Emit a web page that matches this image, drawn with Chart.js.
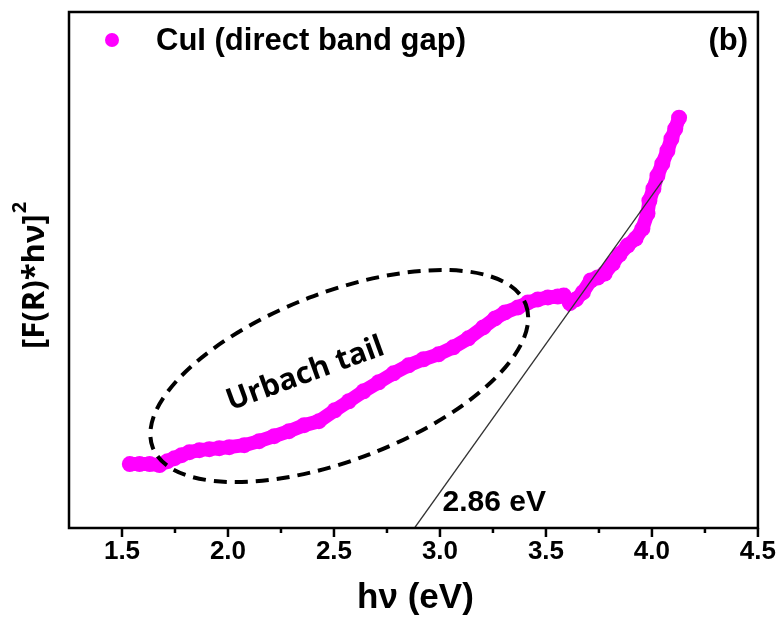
<!DOCTYPE html>
<html><head><meta charset="utf-8">
<script src="https://cdn.jsdelivr.net/npm/chart.js@4/dist/chart.umd.min.js"></script>
<style>html,body{margin:0;padding:0;background:#fff}#wrap{width:784px;height:618px}</style>
</head><body><div id="wrap"><canvas id="c" width="784" height="618"></canvas></div>
<script>
// photon energy (eV)
const hv = [1.537,1.583,1.630,1.677,1.715,1.748,1.781,1.818,1.865,1.912,1.959,2.006,2.077,2.147,2.218,2.288,2.359,2.429,2.504,2.570,2.640,2.711,2.781,2.852,2.922,2.993,3.063,3.134,3.204,3.260,3.307,3.368,3.415,3.462,3.509,3.556,3.584,3.613,3.641,3.674,3.711,3.744,3.777,3.815,3.847,3.885,3.923,3.955,3.979,3.988,4.007,4.026,4.049,4.073,4.092,4.110,4.128];
// [F(R)*hv]^2 (arbitrary units)
const fr = [12.38,12.38,12.38,12.19,12.96,13.54,14.12,14.70,15.09,15.28,15.47,15.67,16.05,16.83,17.80,18.76,19.92,20.70,22.82,24.56,26.50,28.24,29.98,31.53,32.70,33.66,35.01,36.75,38.88,40.62,41.78,42.75,43.71,44.29,44.68,44.87,45.07,43.60,44.30,45.65,47.97,48.55,49.32,51.26,53.00,54.74,56.09,58.03,60.93,63.44,65.76,68.28,70.60,73.11,75.44,77.37,79.50];
// linear fit (Tauc extrapolation)
const fitX = [2.88, 4.05];
const fitY = [0, 67.3];
const xMajorTicks = [1.5,2.0,2.5,3.0,3.5,4.0,4.5];
const xMinorTicks = [1.75,2.25,2.75,3.25,3.75,4.25];
const seriesLabel = 'CuI (direct band gap)';
const panelLabel = '(b)';
const gapLabel = '2.86 eV';
const tailLabel = 'Urbach tail';
const xTitle = 'h\u03bd (eV)';
const yTitle = '[F(R)*h\u03bd]';

const MAG = '#ff00ff';
const SANS = '"Liberation Sans", Arial, sans-serif';
const overlay = {
  id: 'overlay',
  afterDatasetsDraw(chart) {
    const {ctx, chartArea: ca, scales: {x, y}} = chart;
    ctx.save();
    // ellipse
    const p1 = {x: x.getPixelForValue(1.645), y: y.getPixelForValue(15.6)};
    const p2 = {x: x.getPixelForValue(3.405), y: y.getPixelForValue(43.3)};
    const cx = (p1.x + p2.x) / 2, cy = (p1.y + p2.y) / 2;
    const a = Math.hypot(p2.x - p1.x, p2.y - p1.y) / 2;
    const ang = Math.atan2(p2.y - p1.y, p2.x - p1.x);
    ctx.beginPath();
    ctx.ellipse(cx, cy, a, a * 0.42, ang, 0, Math.PI * 2);
    ctx.setLineDash([13, 8]);
    ctx.lineWidth = 4;
    ctx.strokeStyle = '#000';
    ctx.stroke();
    ctx.setLineDash([]);
    // Urbach tail text
    ctx.save();
    ctx.translate(x.getPixelForValue(2.365), y.getPixelForValue(29.8));
    ctx.rotate(-20 * Math.PI / 180);
    ctx.font = 'bold 30px "Open Sans", "Noto Sans", sans-serif';
    ctx.fillStyle = '#000';
    ctx.textAlign = 'center';
    ctx.textBaseline = 'middle';
    ctx.fillText(tailLabel, 0, 0);
    ctx.restore();
    // 2.86 eV
    ctx.font = 'bold 30px ' + SANS;
    ctx.textAlign = 'left';
    ctx.textBaseline = 'middle';
    ctx.fillStyle = '#000';
    ctx.fillText(gapLabel, x.getPixelForValue(3.012), y.getPixelForValue(4.8));
    // frame
    ctx.lineWidth = 2.5;
    ctx.strokeStyle = '#000';
    ctx.strokeRect(ca.left, ca.top, ca.right - ca.left, ca.bottom - ca.top);
    // ticks
    ctx.beginPath();
    xMajorTicks.forEach(v => { const px = x.getPixelForValue(v); ctx.moveTo(px, ca.bottom); ctx.lineTo(px, ca.bottom + 9); });
    xMinorTicks.forEach(v => { const px = x.getPixelForValue(v); ctx.moveTo(px, ca.bottom); ctx.lineTo(px, ca.bottom + 5); });
    ctx.stroke();
    // legend
    ctx.fillStyle = MAG;
    ctx.beginPath();
    ctx.arc(112, 40, 7, 0, Math.PI * 2);
    ctx.fill();
    ctx.fillStyle = '#000';
    ctx.font = 'bold 31px ' + SANS;
    ctx.textAlign = 'left';
    ctx.fillText(seriesLabel, 156, 41);
    ctx.textAlign = 'right';
    ctx.fillText(panelLabel, 748, 41);
    // x title
    ctx.font = 'bold 35px ' + SANS;
    ctx.textAlign = 'center';
    ctx.fillText(xTitle, (ca.left + ca.right) / 2 + 2, 598);
    // y title
    ctx.save();
    ctx.translate(35, 276);
    ctx.rotate(-Math.PI / 2);
    ctx.font = 'bold 31px "Open Sans", "Noto Sans", sans-serif';
    const w = ctx.measureText(yTitle).width;
    ctx.font = 'bold 20px "Open Sans", "Noto Sans", sans-serif';
    const w2 = ctx.measureText('2').width;
    const start = -(w + w2) / 2;
    ctx.font = 'bold 31px "Open Sans", "Noto Sans", sans-serif';
    ctx.textAlign = 'left';
    ctx.fillText(yTitle, start, 0);
    ctx.font = 'bold 20px "Open Sans", "Noto Sans", sans-serif';
    ctx.fillText('2', start + w + 1, -15);
    ctx.restore();
    ctx.restore();
  }
};

new Chart(document.getElementById('c'), {
  type: 'scatter',
  data: {
    datasets: [
      {
        label: 'fit',
        data: fitX.map((v, i) => ({x: v, y: fitY[i]})),
        showLine: true,
        borderColor: '#333',
        borderWidth: 1.3,
        pointRadius: 0,
        order: 0
      },
      {
        label: seriesLabel,
        data: hv.map((v, i) => ({x: v, y: fr[i]})),
        showLine: true,
        borderColor: MAG,
        borderWidth: 14,
        backgroundColor: MAG,
        pointBackgroundColor: MAG,
        pointBorderWidth: 0,
        pointRadius: 8,
        order: 1
      }
    ]
  },
  options: {
    responsive: false,
    animation: false,
    devicePixelRatio: 1,
    layout: {padding: {left: 0, right: 23, top: 12, bottom: 0}},
    plugins: {legend: {display: false}, tooltip: {enabled: false}},
    scales: {
      x: {
        type: 'linear', min: 1.25, max: 4.5,
        grid: {display: false, drawTicks: false},
        border: {display: false},
        afterBuildTicks: s => { s.ticks = xMajorTicks.map(v => ({value: v})); },
        afterFit: s => { s.height = 90; },
        ticks: {
          padding: 8,
          color: '#000',
          font: {family: SANS, size: 26, weight: 'bold'},
          callback: v => Number(v).toFixed(1),
          maxRotation: 0
        }
      },
      y: {
        type: 'linear', min: 0, max: 100,
        grid: {display: false, drawTicks: false},
        border: {display: false},
        ticks: {display: false},
        afterFit: s => { s.width = 69; }
      }
    }
  },
  plugins: [overlay]
});
</script></body></html>
